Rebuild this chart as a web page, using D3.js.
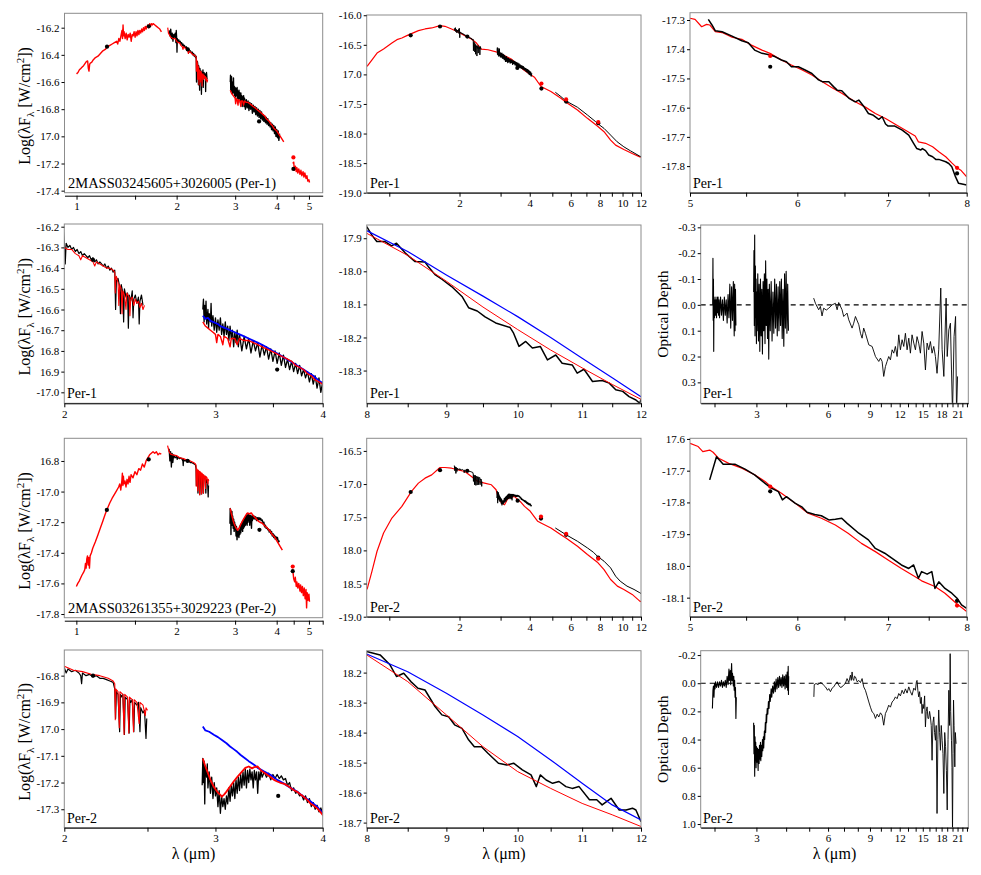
<!DOCTYPE html>
<html><head><meta charset="utf-8">
<script src="https://cdn.jsdelivr.net/npm/d3@7"></script>
<style>body{margin:0;background:#fff}svg{display:block}text{font-family:"Liberation Serif","Times New Roman",serif}</style>
</head><body><svg id="c" width="981" height="875"></svg>
<script>
// ---------------- Per-1 data ----------------
const per1ModelNIR = [[1.000,-16.54],[1.010,-16.53],[1.020,-16.51],[1.030,-16.50],[1.040,-16.49],[1.050,-16.48],[1.060,-16.465],[1.070,-16.45],[1.080,-16.445],[1.085,-16.50],[1.090,-16.52],[1.095,-16.47],[1.100,-16.46],[1.110,-16.455],[1.120,-16.44],[1.140,-16.42],[1.160,-16.41],[1.180,-16.39],[1.200,-16.37],[1.220,-16.36],[1.240,-16.34],[1.260,-16.33],[1.280,-16.32],[1.300,-16.31],[1.320,-16.30],[1.330,-16.32],[1.340,-16.28],[1.350,-16.30],[1.360,-16.26],[1.370,-16.22],[1.375,-16.28],[1.380,-16.18],[1.385,-16.26],[1.390,-16.23],[1.400,-16.28],[1.410,-16.24],[1.420,-16.29],[1.430,-16.25],[1.440,-16.27],[1.450,-16.24],[1.460,-16.30],[1.470,-16.25],[1.480,-16.26],[1.490,-16.23],[1.500,-16.27],[1.510,-16.23],[1.520,-16.26],[1.530,-16.22],[1.540,-16.25],[1.550,-16.22],[1.560,-16.24],[1.570,-16.21],[1.580,-16.23],[1.590,-16.20],[1.600,-16.22],[1.610,-16.19],[1.620,-16.21],[1.630,-16.19],[1.640,-16.18],[1.650,-16.20],[1.660,-16.17],[1.670,-16.19],[1.680,-16.17],[1.690,-16.18],[1.700,-16.17],[1.720,-16.18],[1.740,-16.19],[1.760,-16.20],[1.780,-16.21],[1.800,-16.23]];
const per1ModelK = [[1.88,-16.20],[1.89,-16.24],[1.90,-16.25],[1.92,-16.27],[1.95,-16.28],[1.98,-16.28],[2.00,-16.30],[2.02,-16.31],[2.04,-16.31],[2.06,-16.33],[2.08,-16.34],[2.09,-16.36],[2.10,-16.34],[2.12,-16.35],[2.14,-16.36],[2.16,-16.37],[2.17,-16.39],[2.18,-16.37],[2.20,-16.38],[2.22,-16.39],[2.24,-16.40],[2.26,-16.40],[2.28,-16.41],[2.29,-16.42],[2.293,-16.52],[2.296,-16.45],[2.30,-16.44],[2.31,-16.47],[2.315,-16.58],[2.32,-16.48],[2.33,-16.50],[2.335,-16.62],[2.34,-16.51],[2.35,-16.53],[2.36,-16.60],[2.365,-16.52],[2.38,-16.54],[2.385,-16.63],[2.39,-16.55],[2.40,-16.54],[2.41,-16.58],[2.42,-16.55],[2.43,-16.57],[2.44,-16.56],[2.45,-16.59],[2.46,-16.57],[2.47,-16.60],[2.48,-16.58]];
const per1SpecK = [[1.90,-16.22],[1.91,-16.26],[1.92,-16.21],[1.93,-16.28],[1.94,-16.24],[1.95,-16.30],[1.96,-16.25],[1.97,-16.27],[1.98,-16.24],[1.99,-16.31],[1.995,-16.22],[2.00,-16.27],[2.005,-16.38],[2.01,-16.28],[2.02,-16.30],[2.03,-16.29],[2.04,-16.31],[2.05,-16.30],[2.06,-16.32],[2.07,-16.31],[2.08,-16.33],[2.09,-16.32],[2.10,-16.34],[2.11,-16.33],[2.12,-16.34],[2.13,-16.35],[2.14,-16.34],[2.15,-16.36],[2.16,-16.35],[2.17,-16.37],[2.18,-16.36],[2.19,-16.38],[2.20,-16.37],[2.21,-16.38],[2.22,-16.39],[2.23,-16.38],[2.24,-16.40],[2.25,-16.39],[2.26,-16.41],[2.27,-16.40],[2.28,-16.42],[2.29,-16.41],[2.295,-16.60],[2.30,-16.46],[2.31,-16.45],[2.32,-16.49],[2.325,-16.62],[2.33,-16.48],[2.34,-16.52],[2.345,-16.66],[2.35,-16.50],[2.36,-16.54],[2.37,-16.52],[2.375,-16.69],[2.38,-16.53],[2.39,-16.56],[2.40,-16.51],[2.405,-16.64],[2.41,-16.55],[2.42,-16.53],[2.43,-16.57],[2.44,-16.54],[2.445,-16.67],[2.45,-16.56],[2.46,-16.53],[2.47,-16.58]];
const per1ModelL = [[2.90,-16.66],[2.92,-16.68],[2.94,-16.69],[2.96,-16.70],[2.98,-16.71],[3.00,-16.72],[3.01,-16.76],[3.02,-16.72],[3.04,-16.73],[3.06,-16.77],[3.07,-16.73],[3.10,-16.74],[3.12,-16.78],[3.13,-16.74],[3.16,-16.74],[3.18,-16.77],[3.20,-16.74],[3.24,-16.75],[3.28,-16.75],[3.32,-16.76],[3.36,-16.77],[3.40,-16.78],[3.44,-16.79],[3.48,-16.80],[3.52,-16.81],[3.56,-16.82],[3.60,-16.83],[3.64,-16.84],[3.68,-16.85],[3.72,-16.87],[3.76,-16.88],[3.80,-16.89],[3.84,-16.91],[3.88,-16.92],[3.92,-16.94],[3.96,-16.95],[4.00,-16.96],[4.05,-16.98],[4.10,-17.00],[4.15,-17.02],[4.20,-17.04]];
const per1SpecL = [[2.90,-16.60],[2.905,-16.55],[2.91,-16.66],[2.915,-16.58],[2.92,-16.64],[2.925,-16.56],[2.93,-16.67],[2.94,-16.60],[2.945,-16.69],[2.95,-16.62],[2.96,-16.66],[2.965,-16.57],[2.97,-16.68],[2.98,-16.63],[2.99,-16.70],[3.00,-16.64],[3.01,-16.71],[3.02,-16.65],[3.03,-16.70],[3.04,-16.64],[3.05,-16.72],[3.06,-16.67],[3.07,-16.73],[3.08,-16.66],[3.09,-16.72],[3.10,-16.68],[3.11,-16.75],[3.12,-16.68],[3.13,-16.74],[3.14,-16.70],[3.15,-16.78],[3.16,-16.71],[3.17,-16.76],[3.18,-16.70],[3.19,-16.78],[3.20,-16.72],[3.22,-16.80],[3.24,-16.73],[3.26,-16.79],[3.28,-16.74],[3.30,-16.81],[3.32,-16.75],[3.34,-16.80],[3.36,-16.76],[3.38,-16.83],[3.40,-16.77],[3.42,-16.82],[3.44,-16.78],[3.46,-16.84],[3.48,-16.79],[3.50,-16.85],[3.52,-16.80],[3.54,-16.86],[3.56,-16.81],[3.58,-16.87],[3.60,-16.82],[3.62,-16.88],[3.64,-16.84],[3.66,-16.89],[3.68,-16.85],[3.70,-16.90],[3.72,-16.86],[3.74,-16.91],[3.76,-16.87],[3.78,-16.92],[3.80,-16.89],[3.82,-16.93],[3.84,-16.90],[3.86,-16.95],[3.88,-16.91],[3.90,-16.96],[3.92,-16.92],[3.94,-16.98],[3.96,-16.93],[3.98,-17.00],[4.00,-16.95],[4.02,-17.01],[4.04,-16.96],[4.06,-17.03],[4.08,-16.98]];
const per1BlueL = [[2.90,-16.63],[2.92,-16.645],[2.94,-16.64],[2.96,-16.655],[2.98,-16.66],[3.00,-16.665],[3.02,-16.67],[3.04,-16.68],[3.06,-16.685],[3.08,-16.69],[3.10,-16.695],[3.12,-16.70],[3.14,-16.705],[3.16,-16.71],[3.18,-16.715],[3.20,-16.72],[3.24,-16.73],[3.28,-16.74],[3.32,-16.75],[3.36,-16.76],[3.40,-16.77],[3.45,-16.785],[3.50,-16.80],[3.55,-16.815],[3.60,-16.83],[3.65,-16.845],[3.70,-16.86],[3.75,-16.875],[3.80,-16.89],[3.85,-16.905],[3.90,-16.92],[3.95,-16.94],[4.00,-16.955]];
const per1ModelM = [[4.47,-17.20],[4.50,-17.19],[4.52,-17.25],[4.55,-17.22],[4.58,-17.26],[4.60,-17.23],[4.63,-17.27],[4.66,-17.24],[4.70,-17.28],[4.73,-17.25],[4.76,-17.29],[4.80,-17.26],[4.83,-17.30],[4.86,-17.27],[4.90,-17.31],[4.93,-17.29],[4.96,-17.33],[5.00,-17.32],[5.02,-17.34]];
const per1Phot = [[1.235,-16.34],[1.65,-16.19],[2.16,-16.36],[3.54,-16.89],[4.49,-17.24],[5.73,-17.46],[7.87,-17.825]];
const per1PhotModel = [[4.49,-17.155],[5.73,-17.423],[7.87,-17.806]];
const per1SedModel = [[0.803,-16.866],[0.843,-16.753],[0.886,-16.64],[0.945,-16.572],[1.026,-16.47],[1.078,-16.413],[1.132,-16.385],[1.189,-16.345],[1.245,-16.311],[1.333,-16.26],[1.423,-16.232],[1.52,-16.215],[1.649,-16.175],[1.732,-16.187],[1.849,-16.232],[1.974,-16.283],[2.108,-16.345],[2.25,-16.402],[2.364,-16.47],[2.482,-16.572],[2.65,-16.583],[2.924,-16.628],[3.33,-16.741],[3.80,-16.934],[4.19,-17.047],[4.47,-17.205],[4.93,-17.29],[5.44,-17.403],[5.81,-17.488],[6.41,-17.602],[7.07,-17.743],[7.80,-17.873],[8.33,-17.969],[8.89,-18.111],[9.34,-18.196],[10.13,-18.269],[11.0,-18.337],[11.86,-18.394],[12.0,-18.40]];
const per1SedIrs = [[5.15,-17.302],[5.44,-17.375],[5.72,-17.449],[6.41,-17.556],[7.07,-17.686],[7.67,-17.80],[7.80,-17.828],[8.33,-17.913],[8.89,-18.026],[9.48,-18.139],[10.13,-18.224],[10.81,-18.292],[11.86,-18.383],[12.0,-18.39]];
const per1IrsModelC = [[5.00,-17.294],[5.043,-17.298],[5.10,-17.323],[5.143,-17.315],[5.17,-17.317],[5.22,-17.34],[5.28,-17.343],[5.37,-17.359],[5.46,-17.366],[5.55,-17.386],[5.65,-17.403],[5.74,-17.416],[5.84,-17.437],[5.94,-17.454],[6.05,-17.471],[6.15,-17.488],[6.26,-17.511],[6.36,-17.531],[6.47,-17.551],[6.62,-17.58],[6.74,-17.599],[6.85,-17.62],[6.97,-17.637],[7.08,-17.656],[7.21,-17.677],[7.33,-17.697],[7.37,-17.717],[7.46,-17.722],[7.55,-17.734],[7.63,-17.751],[7.72,-17.768],[7.80,-17.789],[7.87,-17.806],[7.92,-17.814],[8.0,-17.837]];
const per1IrsSpecC = [[5.158,-17.298],[5.19,-17.317],[5.22,-17.337],[5.28,-17.34],[5.37,-17.355],[5.46,-17.371],[5.52,-17.378],[5.58,-17.403],[5.65,-17.414],[5.73,-17.42],[5.78,-17.426],[5.84,-17.437],[5.89,-17.443],[5.94,-17.46],[6.01,-17.46],[6.08,-17.471],[6.15,-17.483],[6.22,-17.505],[6.26,-17.511],[6.33,-17.511],[6.38,-17.528],[6.42,-17.54],[6.47,-17.542],[6.55,-17.568],[6.62,-17.58],[6.66,-17.574],[6.72,-17.597],[6.77,-17.62],[6.82,-17.625],[6.89,-17.64],[6.93,-17.631],[6.97,-17.656],[7.00,-17.663],[7.08,-17.663],[7.17,-17.677],[7.25,-17.694],[7.31,-17.722],[7.35,-17.74],[7.40,-17.745],[7.42,-17.74],[7.46,-17.747],[7.50,-17.762],[7.55,-17.768],[7.59,-17.777],[7.63,-17.777],[7.72,-17.785],[7.76,-17.791],[7.80,-17.802],[7.85,-17.837],[7.89,-17.859],[8.0,-17.865]];
const per1IrsModelE = [[8.0,-17.885],[8.5,-17.952],[9.0,-18.03],[9.5,-18.108],[10.0,-18.176],[10.5,-18.238],[11.0,-18.292],[11.5,-18.342],[12.0,-18.387]];
const per1IrsBlueE = [[8.0,-17.877],[8.5,-17.94],[9.0,-18.011],[9.5,-18.075],[10.0,-18.137],[10.5,-18.20],[11.0,-18.263],[11.5,-18.322],[12.0,-18.379]];
const per1IrsSpecE = [[8.00,-17.865],[8.06,-17.89],[8.12,-17.91],[8.22,-17.91],[8.30,-17.923],[8.36,-17.915],[8.47,-17.945],[8.59,-17.97],[8.72,-17.972],[8.77,-17.988],[8.85,-18.01],[8.94,-18.024],[9.07,-18.046],[9.21,-18.076],[9.30,-18.11],[9.42,-18.12],[9.53,-18.138],[9.68,-18.156],[9.89,-18.17],[9.94,-18.187],[10.02,-18.227],[10.12,-18.212],[10.22,-18.232],[10.34,-18.227],[10.45,-18.268],[10.58,-18.253],[10.68,-18.278],[10.84,-18.283],[10.92,-18.308],[11.03,-18.296],[11.17,-18.333],[11.33,-18.33],[11.45,-18.338],[11.56,-18.358],[11.68,-18.363],[11.79,-18.379],[11.91,-18.389],[11.98,-18.399],[12.0,-18.386]];
const per1TauA = [[1.965,0.00],[1.97,-0.18],[1.975,0.06],[1.98,-0.10],[1.985,0.18],[1.99,-0.02],[2.00,0.05],[2.01,-0.03],[2.02,0.04],[2.03,-0.02],[2.04,0.05],[2.05,-0.03],[2.06,0.03],[2.07,-0.03],[2.08,0.04],[2.09,-0.02],[2.10,0.05],[2.12,-0.03],[2.14,0.04],[2.16,-0.02],[2.18,0.06],[2.20,-0.03],[2.22,0.04],[2.24,-0.02],[2.26,0.07],[2.28,-0.04],[2.30,0.05],[2.32,-0.08],[2.34,0.09],[2.36,-0.07],[2.38,0.06],[2.40,-0.09],[2.42,0.12],[2.43,-0.08],[2.44,0.10],[2.45,-0.06],[2.46,0.08]];
const per1TauB = [[2.92,-0.05],[2.93,-0.21],[2.94,0.08],[2.95,-0.27],[2.96,0.12],[2.97,-0.15],[2.98,0.05],[2.99,-0.10],[3.00,0.15],[3.01,-0.05],[3.02,0.10],[3.04,-0.12],[3.06,0.14],[3.08,-0.08],[3.10,0.18],[3.12,-0.10],[3.14,0.12],[3.16,-0.06],[3.18,0.19],[3.20,-0.09],[3.22,0.10],[3.24,-0.12],[3.26,0.15],[3.28,-0.17],[3.30,0.08],[3.32,-0.10],[3.34,0.13],[3.36,-0.06],[3.38,0.21],[3.40,-0.08],[3.43,0.10],[3.46,-0.09],[3.49,0.14],[3.52,-0.05],[3.55,0.11],[3.58,-0.10],[3.61,0.09],[3.64,-0.08],[3.67,0.12],[3.70,-0.07],[3.73,0.10],[3.76,-0.09],[3.79,0.08],[3.82,-0.10],[3.85,0.13],[3.88,-0.06],[3.91,0.16],[3.94,-0.12],[3.97,0.09],[4.00,-0.13],[4.03,0.11],[4.06,-0.08],[4.09,0.10]];
const per1TauC = [[5.22,-0.026],[5.31,-0.006],[5.48,0.019],[5.57,0.006],[5.66,0.043],[5.75,0.013],[5.9,0.02],[6.04,0.013],[6.24,0.0],[6.44,-0.006],[6.55,0.019],[6.65,-0.009],[6.87,0.019],[6.98,0.045],[7.21,0.032],[7.33,0.058],[7.57,0.09],[7.69,0.071],[7.82,0.045],[8.08,0.077],[8.21,0.11],[8.34,0.129],[8.47,0.09],[8.61,0.11],[8.9,0.155],[9.19,0.161],[9.49,0.2],[9.8,0.219],[9.96,0.206],[10.12,0.219],[10.28,0.277],[10.45,0.239],[10.62,0.219],[10.79,0.2],[10.97,0.213],[11.15,0.174],[11.33,0.187],[11.51,0.161],[11.7,0.2],[11.89,0.116],[12.08,0.174],[12.28,0.135],[12.48,0.161],[12.68,0.11],[12.89,0.174],[13.1,0.129],[13.31,0.187],[13.52,0.116],[13.75,0.148],[13.97,0.174],[14.19,0.123],[14.42,0.148],[14.66,0.187],[14.9,0.103],[15.14,0.148],[15.39,0.252],[15.64,0.148],[15.89,0.174],[16.15,0.142],[16.41,0.187],[16.68,0.161],[16.95,0.2],[17.22,0.265],[17.5,0.174],[17.85,-0.065],[18.09,0.174],[18.39,0.277],[18.8,-0.026],[19.0,0.2],[19.3,0.097],[19.6,0.071],[19.8,0.252],[20.0,0.42],[20.3,0.123],[20.6,0.045],[20.8,0.42],[21.0,0.277]];

// ---------------- Per-2 data ----------------
const per2ModelNIR = [[1.000,-17.62],[1.010,-17.60],[1.020,-17.585],[1.030,-17.565],[1.040,-17.545],[1.050,-17.53],[1.060,-17.51],[1.065,-17.47],[1.070,-17.50],[1.075,-17.44],[1.080,-17.42],[1.085,-17.48],[1.090,-17.43],[1.095,-17.50],[1.100,-17.42],[1.110,-17.40],[1.120,-17.37],[1.140,-17.33],[1.160,-17.285],[1.180,-17.24],[1.200,-17.195],[1.220,-17.15],[1.240,-17.11],[1.260,-17.075],[1.280,-17.045],[1.300,-17.02],[1.320,-16.995],[1.340,-16.97],[1.350,-16.95],[1.360,-16.99],[1.370,-16.93],[1.375,-16.88],[1.380,-16.96],[1.385,-16.90],[1.390,-16.95],[1.400,-16.93],[1.410,-16.97],[1.420,-16.92],[1.430,-16.95],[1.440,-16.90],[1.450,-16.94],[1.460,-16.89],[1.480,-16.91],[1.500,-16.87],[1.520,-16.89],[1.540,-16.85],[1.560,-16.86],[1.580,-16.82],[1.600,-16.84],[1.620,-16.80],[1.640,-16.78],[1.660,-16.76],[1.680,-16.75],[1.700,-16.74],[1.720,-16.75],[1.740,-16.74],[1.760,-16.76],[1.780,-16.75],[1.800,-16.755]];
const per2ModelK = [[1.88,-16.70],[1.89,-16.72],[1.90,-16.74],[1.92,-16.755],[1.95,-16.76],[2.00,-16.765],[2.05,-16.78],[2.10,-16.785],[2.15,-16.795],[2.20,-16.80],[2.25,-16.81],[2.28,-16.82],[2.29,-16.83],[2.293,-16.965],[2.297,-16.85],[2.31,-16.86],[2.318,-16.995],[2.322,-16.86],[2.34,-16.87],[2.348,-17.02],[2.352,-16.87],[2.37,-16.88],[2.378,-17.015],[2.382,-16.88],[2.40,-16.89],[2.408,-17.01],[2.412,-16.89],[2.43,-16.90],[2.445,-16.98],[2.45,-16.90],[2.47,-16.91],[2.485,-16.95],[2.49,-16.92],[2.50,-16.93]];
const per2SpecK = [[1.90,-16.72],[1.91,-16.80],[1.92,-16.74],[1.93,-16.84],[1.94,-16.75],[1.95,-16.81],[1.96,-16.76],[1.98,-16.78],[2.00,-16.77],[2.01,-16.79],[2.02,-16.775],[2.04,-16.785],[2.06,-16.78],[2.08,-16.79],[2.09,-16.80],[2.095,-16.83],[2.10,-16.79],[2.12,-16.80],[2.14,-16.795],[2.16,-16.805],[2.18,-16.80],[2.20,-16.81],[2.22,-16.81],[2.24,-16.815],[2.26,-16.82],[2.28,-16.825],[2.29,-16.85],[2.295,-16.96],[2.30,-16.86],[2.31,-16.87],[2.32,-17.01],[2.325,-16.87],[2.33,-16.88],[2.34,-16.87],[2.35,-17.02],[2.355,-16.88],[2.37,-16.89],[2.38,-17.015],[2.385,-16.89],[2.39,-16.90],[2.40,-16.89],[2.41,-17.01],[2.415,-16.90],[2.43,-16.91],[2.44,-16.90],[2.45,-17.01],[2.455,-16.92],[2.47,-16.94],[2.48,-16.93],[2.49,-17.035],[2.495,-16.96]];
const per2ModelL = [[2.90,-17.11],[2.92,-17.14],[2.94,-17.165],[2.96,-17.19],[2.98,-17.21],[3.00,-17.225],[3.02,-17.238],[3.04,-17.246],[3.05,-17.253],[3.07,-17.245],[3.09,-17.234],[3.12,-17.215],[3.15,-17.196],[3.18,-17.18],[3.21,-17.165],[3.25,-17.145],[3.28,-17.14],[3.31,-17.147],[3.33,-17.142],[3.36,-17.14],[3.39,-17.155],[3.42,-17.163],[3.45,-17.172],[3.48,-17.18],[3.51,-17.19],[3.54,-17.196],[3.58,-17.202],[3.61,-17.205],[3.64,-17.212],[3.67,-17.22],[3.70,-17.228],[3.74,-17.236],[3.77,-17.245],[3.80,-17.253],[3.84,-17.266],[3.87,-17.278],[3.90,-17.285],[3.94,-17.296],[3.97,-17.308],[4.00,-17.321],[4.05,-17.34],[4.10,-17.36],[4.16,-17.382]];
const per2SpecL = [[2.895,-17.21],[2.90,-17.11],[2.905,-17.20],[2.91,-17.12],[2.915,-17.28],[2.92,-17.14],[2.93,-17.18],[2.935,-17.13],[2.94,-17.22],[2.95,-17.16],[2.96,-17.24],[2.97,-17.18],[2.98,-17.26],[2.99,-17.20],[3.00,-17.25],[3.01,-17.22],[3.02,-17.29],[3.03,-17.23],[3.04,-17.315],[3.05,-17.25],[3.06,-17.29],[3.07,-17.26],[3.08,-17.30],[3.09,-17.25],[3.10,-17.28],[3.11,-17.22],[3.12,-17.27],[3.13,-17.21],[3.14,-17.25],[3.15,-17.20],[3.16,-17.26],[3.17,-17.19],[3.18,-17.24],[3.19,-17.18],[3.20,-17.23],[3.21,-17.17],[3.22,-17.22],[3.23,-17.16],[3.24,-17.21],[3.25,-17.15],[3.26,-17.22],[3.27,-17.155],[3.28,-17.20],[3.29,-17.15],[3.30,-17.19],[3.31,-17.16],[3.32,-17.22],[3.33,-17.155],[3.34,-17.19],[3.35,-17.16],[3.36,-17.24],[3.37,-17.16],[3.38,-17.19],[3.39,-17.155],[3.40,-17.18],[3.42,-17.16],[3.44,-17.18],[3.46,-17.165],[3.48,-17.19],[3.50,-17.17],[3.52,-17.185],[3.54,-17.17],[3.56,-17.185],[3.58,-17.175],[3.60,-17.19],[3.62,-17.185],[3.64,-17.21],[3.66,-17.20],[3.68,-17.23],[3.70,-17.22],[3.72,-17.24],[3.74,-17.235],[3.76,-17.25],[3.78,-17.245],[3.80,-17.265],[3.82,-17.25],[3.84,-17.275],[3.86,-17.26],[3.88,-17.29],[3.90,-17.275],[3.92,-17.30],[3.94,-17.285],[3.96,-17.31],[3.98,-17.295],[4.00,-17.315],[4.02,-17.30],[4.05,-17.33],[4.08,-17.32]];
const per2BlueL = [[2.90,-16.99],[2.92,-17.005],[2.95,-17.01],[2.99,-17.022],[3.02,-17.03],[3.05,-17.04],[3.09,-17.053],[3.12,-17.065],[3.15,-17.075],[3.18,-17.085],[3.21,-17.097],[3.25,-17.11],[3.28,-17.12],[3.33,-17.134],[3.36,-17.145],[3.42,-17.159],[3.48,-17.172],[3.54,-17.19],[3.61,-17.205],[3.67,-17.22],[3.74,-17.235],[3.80,-17.253],[3.87,-17.27],[3.94,-17.29],[4.00,-17.315]];
const per2ModelM = [[4.48,-17.53],[4.50,-17.57],[4.53,-17.59],[4.55,-17.56],[4.58,-17.62],[4.60,-17.59],[4.63,-17.63],[4.66,-17.60],[4.70,-17.65],[4.72,-17.61],[4.75,-17.66],[4.78,-17.62],[4.81,-17.68],[4.84,-17.63],[4.87,-17.70],[4.90,-17.64],[4.92,-17.76],[4.94,-17.66],[4.97,-17.71],[5.00,-17.67],[5.02,-17.72]];
const per2Phot = [[1.235,-17.12],[1.65,-16.79],[2.16,-16.80],[3.55,-17.25],[4.47,-17.52],[5.73,-17.765],[7.87,-18.11]];
const per2PhotModel = [[4.47,-17.49],[5.73,-17.75],[7.87,-18.125]];
const per2SedModel = [[0.803,-18.589],[0.843,-18.314],[0.886,-18.013],[0.945,-17.737],[1.026,-17.512],[1.132,-17.337],[1.245,-17.111],[1.333,-16.986],[1.423,-16.911],[1.52,-16.861],[1.649,-16.75],[1.732,-16.75],[1.849,-16.761],[1.974,-16.786],[2.108,-16.811],[2.25,-16.886],[2.40,-16.961],[2.56,-16.986],[2.74,-17.011],[2.87,-17.086],[2.92,-17.186],[3.03,-17.287],[3.12,-17.312],[3.22,-17.222],[3.43,-17.186],[3.64,-17.262],[3.80,-17.337],[4.0,-17.402],[4.33,-17.562],[4.47,-17.587],[4.93,-17.662],[5.44,-17.763],[5.72,-17.813],[6.41,-17.938],[7.07,-18.063],[7.80,-18.178],[8.33,-18.289],[8.89,-18.439],[9.5,-18.539],[10.13,-18.589],[11.0,-18.664],[11.86,-18.765],[12.0,-18.775]];
const per2SedIrs = [[5.15,-17.662],[5.72,-17.763],[6.41,-17.863],[7.07,-17.963],[7.5,-18.028],[7.80,-18.088],[8.33,-18.163],[8.89,-18.264],[9.34,-18.389],[9.77,-18.464],[10.45,-18.539],[11.2,-18.589],[11.86,-18.639],[12.0,-18.65]];
const per2IrsModelI = [[5.00,-17.614],[5.07,-17.624],[5.11,-17.64],[5.17,-17.635],[5.20,-17.642],[5.25,-17.661],[5.34,-17.677],[5.46,-17.692],[5.58,-17.713],[5.68,-17.734],[5.73,-17.748],[5.84,-17.771],[5.98,-17.803],[6.11,-17.834],[6.25,-17.85],[6.40,-17.871],[6.54,-17.897],[6.69,-17.929],[6.85,-17.955],[7.00,-17.981],[7.16,-18.008],[7.33,-18.034],[7.41,-18.047],[7.58,-18.065],[7.71,-18.086],[7.87,-18.12],[8.00,-18.144]];
const per2IrsSpecI = [[5.17,-17.729],[5.23,-17.656],[5.29,-17.68],[5.40,-17.68],[5.49,-17.695],[5.58,-17.713],[5.68,-17.74],[5.74,-17.755],[5.81,-17.766],[5.85,-17.792],[5.89,-17.782],[5.98,-17.803],[6.05,-17.815],[6.10,-17.831],[6.18,-17.838],[6.25,-17.842],[6.33,-17.855],[6.40,-17.853],[6.47,-17.85],[6.53,-17.866],[6.66,-17.897],[6.77,-17.918],[6.85,-17.945],[6.96,-17.96],[7.04,-17.975],[7.16,-17.997],[7.25,-18.008],[7.31,-17.997],[7.37,-18.039],[7.41,-18.018],[7.48,-18.026],[7.54,-18.018],[7.58,-18.071],[7.63,-18.05],[7.71,-18.071],[7.80,-18.086],[7.87,-18.102],[7.93,-18.123],[8.00,-18.134]];
const per2IrsModelK = [[8.0,-18.141],[8.5,-18.23],[9.0,-18.341],[9.5,-18.447],[10.0,-18.53],[10.5,-18.586],[11.0,-18.636],[11.5,-18.674],[12.0,-18.713]];
const per2IrsBlueK = [[8.0,-18.138],[8.5,-18.197],[9.0,-18.269],[9.5,-18.341],[10.0,-18.413],[10.5,-18.491],[11.0,-18.569],[11.5,-18.641],[12.0,-18.691]];
const per2IrsSpecK = [[8.00,-18.13],[8.16,-18.141],[8.28,-18.174],[8.36,-18.213],[8.45,-18.202],[8.54,-18.23],[8.63,-18.252],[8.72,-18.258],[8.85,-18.313],[8.94,-18.341],[9.03,-18.347],[9.11,-18.374],[9.21,-18.386],[9.30,-18.424],[9.38,-18.447],[9.48,-18.447],[9.57,-18.469],[9.72,-18.502],[9.84,-18.508],[9.94,-18.502],[10.07,-18.524],[10.20,-18.541],[10.28,-18.58],[10.34,-18.541],[10.43,-18.558],[10.53,-18.569],[10.63,-18.563],[10.74,-18.58],[10.84,-18.586],[10.95,-18.58],[11.12,-18.624],[11.24,-18.624],[11.33,-18.641],[11.48,-18.619],[11.62,-18.658],[11.74,-18.658],[11.85,-18.652],[11.91,-18.658],[12.0,-18.697]];
const per2TauA = [[1.96,0.18],[1.97,0.05],[1.98,0.02],[1.99,0.10],[2.00,0.00],[2.01,0.04],[2.02,-0.01],[2.04,0.03],[2.06,-0.01],[2.08,0.03],[2.10,-0.01],[2.12,0.02],[2.14,-0.02],[2.16,0.03],[2.18,-0.01],[2.20,0.02],[2.22,-0.02],[2.24,0.03],[2.26,-0.05],[2.28,0.01],[2.30,-0.10],[2.31,-0.02],[2.33,-0.09],[2.34,0.01],[2.36,-0.14],[2.37,-0.02],[2.38,-0.07],[2.40,0.02],[2.41,-0.05],[2.42,0.05],[2.43,-0.02],[2.44,0.10],[2.45,0.03],[2.46,0.25],[2.47,0.10]];
const per2TauB = [[2.92,0.28],[2.93,0.50],[2.94,0.30],[2.95,0.66],[2.96,0.38],[2.97,0.55],[2.98,0.42],[2.99,0.60],[3.00,0.45],[3.02,0.56],[3.03,0.46],[3.05,0.62],[3.06,0.47],[3.08,0.57],[3.09,0.44],[3.11,0.54],[3.12,0.42],[3.13,0.55],[3.15,0.44],[3.16,0.52],[3.18,0.40],[3.19,0.48],[3.21,0.38],[3.22,0.46],[3.24,0.34],[3.25,0.40],[3.27,0.28],[3.28,0.35],[3.30,0.22],[3.31,0.28],[3.33,0.18],[3.35,0.22],[3.37,0.13],[3.39,0.18],[3.41,0.08],[3.43,0.13],[3.46,0.04],[3.48,0.10],[3.51,0.02],[3.54,0.07],[3.57,-0.01],[3.60,0.06],[3.63,-0.03],[3.66,0.04],[3.69,-0.04],[3.72,0.03],[3.75,-0.05],[3.78,0.02],[3.81,-0.04],[3.84,0.03],[3.87,-0.06],[3.90,0.02],[3.93,-0.05],[3.96,0.04],[3.99,-0.06],[4.02,0.03],[4.04,-0.08],[4.06,0.05],[4.08,-0.12],[4.09,0.08],[4.10,-0.05]];
const per2TauC = [[5.23,0.097],[5.25,0.01],[5.34,0.002],[5.45,0.01],[5.56,-0.005],[5.66,0.0],[5.75,0.015],[5.85,0.026],[5.97,0.05],[6.04,0.038],[6.14,0.06],[6.24,0.035],[6.34,0.026],[6.45,0.005],[6.55,-0.01],[6.65,0.014],[6.76,0.03],[6.87,0.026],[6.98,0.012],[7.09,0.002],[7.21,-0.033],[7.33,-0.005],[7.45,-0.057],[7.51,-0.02],[7.57,-0.08],[7.63,-0.03],[7.69,-0.02],[7.75,-0.05],[7.82,-0.045],[7.95,-0.01],[8.08,-0.02],[8.21,-0.005],[8.34,-0.033],[8.47,0.026],[8.61,0.05],[8.75,0.09],[8.9,0.133],[9.04,0.17],[9.19,0.204],[9.34,0.215],[9.49,0.25],[9.65,0.22],[9.8,0.24],[9.96,0.21],[10.12,0.227],[10.28,0.298],[10.45,0.215],[10.62,0.19],[10.79,0.156],[10.97,0.17],[11.15,0.133],[11.33,0.12],[11.51,0.097],[11.7,0.11],[11.89,0.073],[12.08,0.09],[12.28,0.05],[12.48,0.075],[12.68,0.04],[12.89,0.07],[13.1,0.026],[13.31,0.06],[13.52,0.085],[13.75,0.035],[13.97,0.05],[14.1,-0.01],[14.19,-0.02],[14.3,0.05],[14.42,0.097],[14.54,0.06],[14.66,0.144],[14.78,0.10],[14.9,0.215],[15.02,0.15],[15.14,0.18],[15.27,0.09],[15.39,0.31],[15.51,0.2],[15.64,0.168],[15.77,0.25],[15.89,0.25],[16.02,0.2],[16.15,0.24],[16.28,0.3],[16.41,0.547],[16.55,0.28],[16.68,0.239],[16.81,0.35],[16.95,0.405],[17.08,0.3],[17.22,0.925],[17.36,0.4],[17.5,0.19],[17.65,0.35],[17.79,0.476],[17.94,0.3],[18.09,0.405],[18.24,0.5],[18.39,0.783],[18.55,0.35],[18.7,0.45],[18.85,0.62],[19.0,0.9],[19.15,0.4],[19.3,0.05],[19.45,0.3],[19.55,-0.21],[19.65,0.2],[19.8,0.405],[19.9,0.6],[20.0,1.04],[20.1,0.5],[20.2,0.12],[20.3,0.3],[20.45,0.594],[20.55,0.35],[20.7,0.43]];

// ---------------- tick values and labels ----------------
const xTicksNIR = [1,1.5,2,3,4,4.5,5];
const xLabelsNIR = ['1','','2','3','4','','5'];
const xTicksNIR2 = [1,1.5,2,3,4,4.5,5,5.5];
const xLabelsNIR2 = ['1','','2','3','4','','5',''];
const xTicksSED = [1,2,3,4,5,6,7,8,9,10,11,12];
const xLabelsSED = ['','2','','4','','6','','8','','10','','12'];
const xTicksIRS1 = [5,5.5,6,6.5,7,7.5,8];
const xLabelsIRS1 = ['5','','6','','7','','8'];
const xTicksL = [2,2.5,3,3.5,4];
const xLabelsL = ['2','','3','','4'];
const xTicksIRS2 = [8,8.5,9,9.5,10,10.5,11,11.5,12];
const xLabelsIRS2 = ['8','','9','','10','','11','','12'];
const xTicksTau = [2,3,4,5,6,7,8,9,10,11,12,13,14,15,16,17,18,19,20,21,22,23];
const xLabelsTau = ['','3','','','6','','','9','','','12','','','15','','','18','','','21','',''];
const yTicksA = [-16.2,-16.4,-16.6,-16.8,-17.0,-17.2,-17.4];
const yLabelsA = ['-16.2','16.4','-16.6','-16.8','17.0','-17.2','-17.4'];
const yTicksB = [-16.0,-16.5,-17.0,-17.5,-18.0,-18.5,-19.0];
const yLabelsB = ['-16.0','-16.5','17.0','-17.5','-18.0','-18.5','-19.0'];
const yTicksC = [-17.3,-17.4,-17.5,-17.6,-17.7,-17.8];
const yLabelsC = ['-17.3','17.4','-17.5','-17.6','-17.7','-17.8'];
const yTicksD = [-16.2,-16.3,-16.4,-16.5,-16.6,-16.7,-16.8,-16.9,-17.0];
const yLabelsD = ['-16.2','-16.3','-16.4','-16.5','-16.6','-16.7','16.8','16.9','-17.0'];
const yTicksE = [-17.9,-18.0,-18.1,-18.2,-18.3];
const yLabelsE = ['17.9','-18.0','18.1','-18.2','-18.3'];
const yTicksF = [-0.3,-0.2,-0.1,0,0.1,0.2,0.3];
const yLabelsF = ['-0.3','-0.2','-0.1','0.0','0.1','0.2','0.3'];
const yTicksG = [-16.8,-17.0,-17.2,-17.4,-17.6,-17.8];
const yLabelsG = ['16.8','-17.0','-17.2','-17.4','-17.6','-17.8'];
const yTicksH = [-16.5,-17.0,-17.5,-18.0,-18.5,-19.0];
const yLabelsH = ['-16.5','-17.0','17.5','18.0','18.5','-19.0'];
const yTicksI = [-17.6,-17.7,-17.8,-17.9,-18.0,-18.1];
const yLabelsI = ['17.6','-17.7','-17.8','-17.9','18.0','-18.1'];
const yTicksJ = [-16.8,-16.9,-17.0,-17.1,-17.2,-17.3];
const yLabelsJ = ['-16.8','-16.9','17.0','-17.1','-17.2','-17.3'];
const yTicksK = [-18.2,-18.3,-18.4,-18.5,-18.6,-18.7];
const yLabelsK = ['18.2','-18.3','-18.4','-18.5','-18.6','-18.7'];
const yTicksL = [-0.2,0,0.2,0.4,0.6,0.8,1.0];
const yLabelsL = ['-0.2','0.0','0.2','0.4','0.6','0.8','1.0'];

// ---------------- layout ----------------
const K = '#000', RD = '#ff0000', BL = '#0000ff';
const panels = [
 {id:'A', frame:[64.5,13.3,322.7,192.7], xd:[0.92,5.5], yd:[-17.415,-16.094], xt:xTicksNIR, xl:xLabelsNIR, yt:yTicksA, yl:yLabelsA, off:3,
  lines:[[per1SpecK,K,1.3],[per1SpecL,K,1.4],[per1ModelNIR,RD,1.4],[per1ModelK,RD,1.2],[per1ModelL,RD,1.4],[per1ModelM,RD,1.4]],
  dots:[[per1Phot,K],[per1PhotModel,RD]], label:'2MASS03245605+3026005 (Per-1)', lx:68, ly:188, ytitle:'log'},
 {id:'B', frame:[366.7,15,641,192.7], xd:[0.8,12], yd:[-19.0,-15.996], xt:xTicksSED, xl:xLabelsSED, yt:yTicksB, yl:yLabelsB,
  lines:[[per1SedModel,RD,1.2],[per1SpecK,K,1],[per1SpecL,K,1.2],[per1SedIrs,K,1]],
  dots:[[per1Phot,K],[per1PhotModel,RD]], label:'Per-1', lx:370, ly:188},
 {id:'C', frame:[690,12.7,966.7,192.7], xd:[5,8], yd:[-17.891,-17.275], xt:xTicksIRS1, xl:xLabelsIRS1, yt:yTicksC, yl:yLabelsC,
  lines:[[per1IrsModelC,RD,1.2],[per1IrsSpecC,K,1.5]],
  dots:[[per1Phot,K],[per1PhotModel,RD]], label:'Per-1', lx:693, ly:188},
 {id:'D', frame:[64.3,224,322.7,403.3], xd:[2,4], yd:[-17.053,-16.187], xt:xTicksL, xl:xLabelsL, yt:yTicksD, yl:yLabelsD,
  lines:[[per1SpecK,K,1.2],[per1SpecL,K,1.3],[per1BlueL,BL,1.8],[per1ModelK,RD,1.1],[per1ModelL,RD,1.4]],
  dots:[[per1Phot,K]], label:'Per-1', lx:67, ly:398, ytitle:'log'},
 {id:'E', frame:[366.7,225,641,403.3], xd:[8,12], yd:[-18.399,-17.86], xt:xTicksIRS2, xl:xLabelsIRS2, yt:yTicksE, yl:yLabelsE,
  lines:[[per1IrsSpecE,K,1.5],[per1IrsModelE,RD,1],[per1IrsBlueE,BL,1.2]],
  dots:[], label:'Per-1', lx:370, ly:398},
 {id:'F', frame:[700.7,225,968.3,403.3], xd:[1.75,23.3], yd:[0.381,-0.309], xt:xTicksTau, xl:xLabelsTau, yt:yTicksF, yl:yLabelsF, zero:true,
  lines:[[per1TauA,K,1.1],[per1TauB,K,1.1],[per1TauC,K,0.9]],
  dots:[], label:'Per-1', lx:703, ly:398, ytitle:'tau'},
 {id:'G', frame:[64.3,438.3,322.7,617.7], xd:[0.92,5.5], yd:[-17.824,-16.652], xt:xTicksNIR2, xl:xLabelsNIR2, yt:yTicksG, yl:yLabelsG, off:3,
  lines:[[per2SpecK,K,1.3],[per2SpecL,K,1.4],[per2ModelNIR,RD,1.4],[per2ModelK,RD,1.2],[per2ModelL,RD,1.5],[per2ModelM,RD,1.4]],
  dots:[[per2Phot,K],[per2PhotModel,RD]], label:'2MASS03261355+3029223 (Per-2)', lx:68, ly:613, ytitle:'log'},
 {id:'H', frame:[366.7,438.3,641,616.7], xd:[0.8,12], yd:[-19.0,-16.31], xt:xTicksSED, xl:xLabelsSED, yt:yTicksH, yl:yLabelsH,
  lines:[[per2SedModel,RD,1.2],[per2SpecK,K,1],[per2SpecL,K,1.2],[per2SedIrs,K,1]],
  dots:[[per2Phot,K],[per2PhotModel,RD]], label:'Per-2', lx:370, ly:612},
 {id:'I', frame:[690,438.3,966.7,616.7], xd:[5,8], yd:[-18.16,-17.598], xt:xTicksIRS1, xl:xLabelsIRS1, yt:yTicksI, yl:yLabelsI,
  lines:[[per2IrsModelI,RD,1.2],[per2IrsSpecI,K,1.5]],
  dots:[[per2Phot,K],[per2PhotModel,RD]], label:'Per-2', lx:693, ly:612},
 {id:'J', frame:[64.3,650,322.7,827.7], xd:[2,4], yd:[-17.369,-16.704], xt:xTicksL, xl:xLabelsL, yt:yTicksJ, yl:yLabelsJ,
  lines:[[per2SpecK,K,1.2],[per2SpecL,K,1.3],[per2BlueL,BL,1.8],[per2ModelK,RD,1.1],[per2ModelL,RD,1.8]],
  dots:[[per2Phot,K]], label:'Per-2', lx:67, ly:823, ytitle:'log', xtitle:true},
 {id:'K', frame:[366.7,650.7,641,827.7], xd:[8,12], yd:[-18.717,-18.127], xt:xTicksIRS2, xl:xLabelsIRS2, yt:yTicksK, yl:yLabelsK,
  lines:[[per2IrsSpecK,K,1.5],[per2IrsModelK,RD,1],[per2IrsBlueK,BL,1.2]],
  dots:[], label:'Per-2', lx:370, ly:823, xtitle:true},
 {id:'L', frame:[700.7,650.7,968.3,827.7], xd:[1.75,23.3], yd:[1.026,-0.231], xt:xTicksTau, xl:xLabelsTau, yt:yTicksL, yl:yLabelsL, zero:true,
  lines:[[per2TauA,K,1.1],[per2TauB,K,1.1],[per2TauC,K,0.9]],
  dots:[], label:'Per-2', lx:703, ly:823, ytitle:'tau', xtitle:true}
];

const svg = d3.select('#c');
svg.append('rect').attr('width',981).attr('height',875).attr('fill','#fff');
const defs = svg.append('defs');
const FONT = '"Liberation Serif","Times New Roman",serif';

panels.forEach(p => {
  const [x0,y0,x1,y1] = p.frame;
  const x = d3.scaleLog().domain(p.xd).range([x0,x1]);
  const y = d3.scaleLinear().domain(p.yd).range([y1,y0]);
  const g = svg.append('g');
  const cid = 'clip' + p.id;
  defs.append('clipPath').attr('id',cid).append('rect')
    .attr('x',x0).attr('y',y0).attr('width',x1-x0).attr('height',y1-y0);
  const plot = g.append('g').attr('clip-path',`url(#${cid})`);
  if (p.zero) {
    plot.append('line').attr('x1',x0).attr('x2',x1).attr('y1',y(0)).attr('y2',y(0))
      .attr('stroke','#000').attr('stroke-width',1.2).attr('stroke-dasharray','5,4');
  }
  const line = d3.line().x(d => x(d[0])).y(d => y(d[1]));
  p.lines.forEach(([data,color,w]) => {
    plot.append('path').datum(data).attr('d',line).attr('fill','none')
      .attr('stroke',color).attr('stroke-width',w).attr('stroke-linejoin','round');
  });
  p.dots.forEach(([data,color]) => {
    plot.selectAll(null).data(data).enter().append('circle')
      .attr('cx',d => x(d[0])).attr('cy',d => y(d[1])).attr('r',2.1).attr('fill',color);
  });
  g.append('rect').attr('x',x0).attr('y',y0).attr('width',x1-x0).attr('height',y1-y0)
    .attr('fill','none').attr('stroke','#8c8c8c').attr('stroke-width',1);
  const xa = g.append('g').attr('transform',`translate(0,${y1 + (p.off||0)})`)
    .call(d3.axisBottom(x).tickValues(p.xt).tickFormat((d,i) => p.xl[i]).tickSize(4).tickPadding(3).tickSizeOuter(0));
  xa.attr('font-family',FONT).attr('font-size',11);
  xa.select('.domain').attr('stroke','#000');
  const ya = g.append('g').attr('transform',`translate(${x0},0)`)
    .call(d3.axisLeft(y).tickValues(p.yt).tickFormat((d,i) => p.yl[i]).tickSize(3).tickPadding(2).tickSizeOuter(0));
  ya.attr('font-family',FONT).attr('font-size',11);
  ya.select('.domain').remove();
  g.append('text').attr('x',p.lx).attr('y',p.ly).attr('font-size',p.label.length > 10 ? 14.5 : 14)
    .attr('font-family',FONT).text(p.label);
  const cy = (y0 + y1) / 2;
  if (p.ytitle === 'log') {
    const t = svg.append('text').attr('transform',`translate(30,${cy + 3}) rotate(-90)`)
      .attr('text-anchor','middle').attr('font-size',16).attr('font-family',FONT);
    t.append('tspan').text('Log(λF');
    t.append('tspan').attr('dy',4).attr('font-size',11).text('λ');
    t.append('tspan').attr('dy',-4).text(' [W/cm');
    t.append('tspan').attr('dy',-6).attr('font-size',11).text('2');
    t.append('tspan').attr('dy',6).text('])');
  } else if (p.ytitle === 'tau') {
    svg.append('text').attr('transform',`translate(668,${cy}) rotate(-90)`)
      .attr('text-anchor','middle').attr('font-size',15.5).attr('font-family',FONT).text('Optical Depth');
  }
  if (p.xtitle) {
    svg.append('text').attr('x',(x0 + x1) / 2).attr('y',859).attr('text-anchor','middle')
      .attr('font-size',16).attr('font-family',FONT).text('λ (μm)');
  }
});
</script></body></html>
